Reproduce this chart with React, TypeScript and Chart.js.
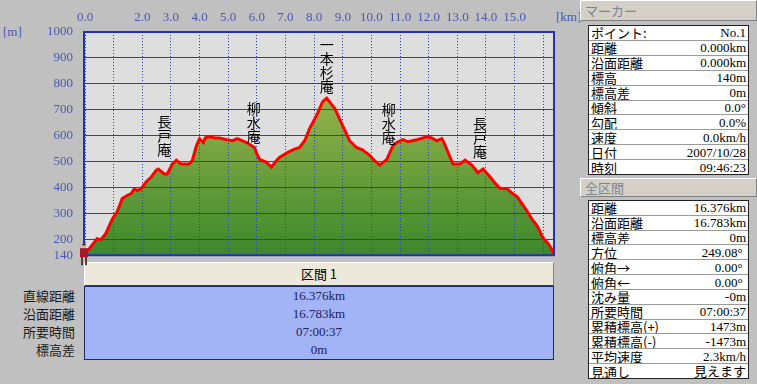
import React, { useEffect, useRef } from 'react';
import { Chart, registerables } from 'chart.js';

Chart.register(...registerables);

// ---- profile data (distance km / elevation m) ----
const distanceKm = [
  0.0, 0.15, 0.32, 0.42, 0.56, 0.74, 0.95, 1.13, 1.3, 1.47, 1.61, 1.72, 1.82, 1.96,
  2.14, 2.31, 2.49, 2.56, 2.77, 2.87, 3.05, 3.19, 3.36, 3.64, 3.75, 3.89, 4.0, 4.13,
  4.2, 4.34, 4.55, 4.69, 4.94, 5.15, 5.32, 5.64, 5.92, 6.0, 6.1, 6.34, 6.51, 6.65,
  6.79, 7.08, 7.3, 7.49, 7.67, 7.85, 8.09, 8.3, 8.44, 8.58, 8.72, 9.0, 9.24, 9.48,
  9.7, 9.94, 10.1, 10.29, 10.54, 10.75, 10.9, 11.1, 11.28, 11.59, 11.94, 12.1, 12.29,
  12.46, 12.55, 12.7, 12.85, 13.09, 13.27, 13.51, 13.72, 13.9, 14.14, 14.3, 14.49,
  14.74, 14.9, 15.09, 15.25, 15.44, 15.6, 15.79, 15.95, 16.07, 16.17, 16.376,
];
const elevationM = [
  151, 165, 189, 204, 200, 226, 279, 309, 358, 370, 377, 396, 389, 396,
  423, 441, 468, 472, 453, 453, 491, 506, 491, 491, 506, 562, 589, 574,
  592, 596, 592, 592, 585, 581, 589, 574, 555, 530, 509, 498, 479, 500,
  517, 536, 548, 555, 581, 630, 679, 732, 745, 725, 706, 638, 581, 555,
  545, 525, 505, 487, 509, 562, 575, 585, 577, 585, 596, 592, 581,
  589, 570, 530, 491, 491, 506, 487, 458, 472, 442, 420, 398,
  396, 380, 366, 340, 309, 280, 253, 215, 196, 185, 148,
];

const xTickValues = [0, 1, 2, 3, 4, 5, 6, 7, 8, 9, 10, 11, 12, 13, 14, 15, 16];
const xTickLabels = ['0.0', '', '2.0', '3.0', '4.0', '5.0', '6.0', '7.0', '8.0', '9.0', '10.0', '11.0', '12.0', '13.0', '14.0', '15.0', ''];
const yTickValues = [140, 200, 300, 400, 500, 600, 700, 800, 900, 1000];

const landmarkNames = ['長戸庵', '柳水庵', '一本杉庵', '柳水庵', '長戸庵'];
const landmarkKm = [2.77, 5.89, 8.44, 10.61, 13.79];
const landmarkTopM = [683, 732, 977, 728, 675];

const sectionLabels = ['直線距離', '沿面距離', '所要時間', '標高差'];
const sectionValues = ['16.376km', '16.783km', '07:00:37', '0m'];

const markerLabels = ['ポイント:', '距離', '沿面距離', '標高', '標高差', '傾斜', '勾配', '速度', '日付', '時刻'];
const markerValues = ['No.1', '0.000km', '0.000km', '140m', '0m', '0.0°', '0.0%', '0.0km/h', '2007/10/28', '09:46:23'];

const totalLabels = ['距離', '沿面距離', '標高差', '方位', '俯角→', '俯角←', '沈み量', '所要時間', '累積標高(+)', '累積標高(-)', '平均速度', '見通し'];
const totalValues = ['16.376km', '16.783km', '0m', '249.08° ', '0.00° ', '0.00° ', '-0m', '07:00:37', '1473m', '-1473m', '2.3km/h', '見えます'];

const AXIS_COLOR = '#4a56b4';
const GRID_COLOR = '#2a3cc8';
const NUM_FONT = '"Liberation Serif", "Noto Sans CJK JP", serif';
const JP_FONT = '"Noto Sans CJK JP", "Liberation Serif", sans-serif';

const decorPlugin = {
  id: 'decor',
  beforeDraw(chart: any) {
    const { ctx, chartArea: a } = chart;
    ctx.save();
    ctx.fillStyle = '#dedede';
    ctx.fillRect(a.left, a.top, a.right - a.left, a.bottom - a.top);
    ctx.restore();
  },
  afterDatasetDraw(chart: any, args: any) {
    if (args.index === 0) {
      chart.scales.x.drawGrid(chart.chartArea);
      chart.scales.y.drawGrid(chart.chartArea);
    }
  },
  afterDraw(chart: any) {
    const { ctx, chartArea: a, scales } = chart;
    ctx.save();
    ctx.strokeStyle = '#2030c0';
    ctx.lineWidth = 2;
    ctx.strokeRect(a.left - 1, a.top, a.right - a.left + 1, a.bottom - a.top);
    // landmark names (vertical)
    ctx.fillStyle = '#000';
    ctx.font = `14px ${JP_FONT}`;
    ctx.textAlign = 'center';
    ctx.textBaseline = 'top';
    landmarkNames.forEach((name, i) => {
      const x = scales.x.getPixelForValue(landmarkKm[i]);
      const y0 = scales.y.getPixelForValue(landmarkTopM[i]);
      Array.from(name).forEach((ch, j) => ctx.fillText(ch, x, y0 + j * 14));
    });
    // hiker marker at start
    const hx = scales.x.getPixelForValue(0) - 1;
    const hy = scales.y.getPixelForValue(140);
    ctx.fillStyle = '#5a4030';
    ctx.fillRect(hx - 3, hy + 1, 2, 9);
    ctx.fillRect(hx + 1, hy + 1, 2, 9);
    ctx.fillStyle = '#a81828';
    ctx.fillRect(hx - 4, hy - 7, 8, 9);
    ctx.fillStyle = '#e8b090';
    ctx.fillRect(hx - 2, hy - 10, 4, 3);
    ctx.fillStyle = '#402018';
    ctx.fillRect(hx - 2, hy - 11, 4, 1);
    ctx.restore();
  },
};

function ProfileChart() {
  const ref = useRef<HTMLCanvasElement | null>(null);
  useEffect(() => {
    if (!ref.current) return;
    const pts = distanceKm.map((x, i) => ({ x, y: elevationM[i] }));
    const chart = new Chart(ref.current, {
      type: 'line',
      data: {
        datasets: [
          {
            label: 'fill',
            data: pts,
            order: 2,
            borderWidth: 0,
            pointRadius: 0,
            fill: 'start',
            backgroundColor: (c: any) => {
              const area = c.chart.chartArea;
              if (!area) return '#6a9e3a';
              const g = c.chart.ctx.createLinearGradient(0, area.top, 0, area.bottom);
              g.addColorStop(0, '#a8bc58');
              g.addColorStop(0.3, '#94b24a');
              g.addColorStop(1, '#3c882c');
              return g;
            },
          },
          {
            label: 'line',
            data: pts,
            order: 1,
            borderColor: '#ff0000',
            borderWidth: 3,
            pointRadius: 0,
            fill: false,
            tension: 0,
          },
        ],
      },
      options: {
        responsive: false,
        animation: false,
        layout: { padding: { left: 0, right: 21, top: 0, bottom: 15 } },
        plugins: { legend: { display: false }, tooltip: { enabled: false } },
        scales: {
          x: {
            type: 'linear',
            position: 'top',
            min: 0,
            max: 16.376,
            afterBuildTicks: (s: any) => {
              s.ticks = xTickValues.map((v) => ({ value: v }));
            },
            afterFit: (s: any) => {
              s.height = 32;
            },
            ticks: {
              autoSkip: false,
              maxRotation: 0,
              padding: 7,
              color: AXIS_COLOR,
              font: { family: NUM_FONT, size: 13 },
              callback: (_v: any, i: number) => xTickLabels[i],
            },
            grid: { color: GRID_COLOR, lineWidth: 1, drawTicks: false },
            border: { display: false, dash: [1, 2] },
          },
          y: {
            min: 140,
            max: 1000,
            afterBuildTicks: (s: any) => {
              s.ticks = yTickValues.map((v) => ({ value: v }));
            },
            afterFit: (s: any) => {
              s.width = 85;
            },
            ticks: {
              autoSkip: false,
              padding: 12,
              color: AXIS_COLOR,
              font: { family: NUM_FONT, size: 13 },
              callback: (v: any) => String(v),
            },
            grid: { color: GRID_COLOR, lineWidth: 1, drawTicks: false },
            border: { display: false },
          },
        },
      },
      plugins: [decorPlugin],
    } as any);
    return () => chart.destroy();
  }, []);
  return (
    <canvas
      ref={ref}
      width={575}
      height={275}
      style={{ position: 'absolute', left: 0, top: 0, width: 575, height: 275, zIndex: 2 }}
    />
  );
}

function InfoTable({ top, height, labels, values }: { top: number; height: number; labels: string[]; values: string[] }) {
  return (
    <div
      style={{
        position: 'absolute',
        left: 588,
        top,
        width: 161,
        height,
        background: '#fff',
        border: '1px solid #202020',
        boxSizing: 'border-box',
        display: 'flex',
        flexDirection: 'column',
      }}
    >
      {labels.map((l, i) => (
        <div
          key={i}
          style={{
            flex: 1,
            display: 'flex',
            alignItems: 'center',
            justifyContent: 'space-between',
            borderTop: i === 0 ? 'none' : '1px solid #9a9a9a',
            padding: '0 2px',
            fontSize: 13,
            lineHeight: '13px',
            color: '#000',
            overflow: 'hidden',
            whiteSpace: 'pre',
          }}
        >
          <span style={{ fontFamily: JP_FONT }}>{l}</span>
          <span style={{ fontFamily: NUM_FONT }}>{values[i]}</span>
        </div>
      ))}
    </div>
  );
}

function PanelHeader({ top, height, text }: { top: number; height: number; text: string }) {
  return (
    <div
      style={{
        position: 'absolute',
        left: 580,
        top,
        width: 177,
        height,
        boxSizing: 'border-box',
        background: '#d4d0c8',
        borderTop: '1px solid #fff',
        borderLeft: '1px solid #fff',
        borderBottom: '1px solid #808080',
        borderRight: '1px solid #808080',
        fontFamily: JP_FONT,
        fontSize: 13,
        lineHeight: `${height - 2}px`,
        color: '#7c8494',
        paddingLeft: 4,
      }}
    >
      {text}
    </div>
  );
}

export default function App() {
  return (
    <div style={{ position: 'relative', width: 757, height: 384, background: '#c0c0c0', overflow: 'hidden' }}>
      <style>{'body{margin:0}'}</style>
      <div style={{ position: 'absolute', left: 3, top: 24, fontFamily: NUM_FONT, fontSize: 13, color: AXIS_COLOR }}>[m]</div>
      <div style={{ position: 'absolute', left: 556, top: 9, fontFamily: NUM_FONT, fontSize: 13, color: AXIS_COLOR }}>[km]</div>
      <ProfileChart />
      {/* section header */}
      <div
        style={{
          position: 'absolute',
          left: 84,
          top: 262,
          width: 470,
          height: 24,
          boxSizing: 'border-box',
          background: '#ece9da',
          borderTop: '1px solid #fff',
          borderLeft: '1px solid #fff',
          borderBottom: '1px solid #404040',
          borderRight: '1px solid #808080',
          textAlign: 'center',
          fontFamily: JP_FONT,
          fontSize: 13,
          lineHeight: '22px',
          color: '#000',
          zIndex: 1,
        }}
      >
        区間 1
      </div>
      <div
        style={{
          position: 'absolute',
          left: 84,
          top: 286,
          width: 470,
          height: 74,
          boxSizing: 'border-box',
          background: '#a3b4f6',
          border: '1px solid #1c2a6a',
          zIndex: 1,
        }}
      >
        {sectionValues.map((v, i) => (
          <div
            key={i}
            style={{
              height: 18,
              lineHeight: '18px',
              textAlign: 'center',
              fontFamily: NUM_FONT,
              fontSize: 13,
              color: '#1a2060',
            }}
          >
            {v}
          </div>
        ))}
      </div>
      {sectionLabels.map((l, i) => (
        <div
          key={i}
          style={{
            position: 'absolute',
            right: 757 - 75,
            top: 287 + i * 18,
            height: 18,
            lineHeight: '18px',
            fontFamily: JP_FONT,
            fontSize: 13,
            color: '#1a1a1a',
            whiteSpace: 'nowrap',
          }}
        >
          {l}
        </div>
      ))}
      <PanelHeader top={0} height={21} text="マーカー" />
      <InfoTable top={25} height={150} labels={markerLabels} values={markerValues} />
      <PanelHeader top={178} height={19} text="全区間" />
      <InfoTable top={200} height={179} labels={totalLabels} values={totalValues} />
    </div>
  );
}
